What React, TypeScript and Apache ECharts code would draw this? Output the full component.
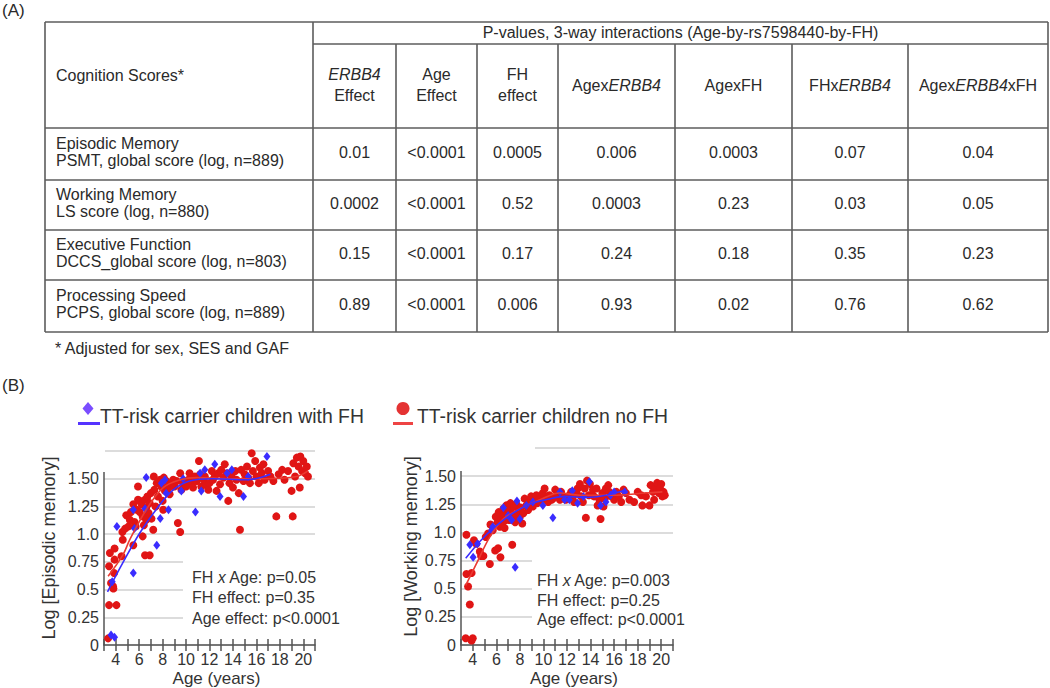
import React, { useEffect, useRef } from 'react';
import * as echarts from 'echarts';

const FONT = '"Liberation Sans", Arial, Helvetica, sans-serif';

// ---------- Table data (A) ----------
const tableTitle = 'P-values, 3-way interactions (Age-by-rs7598440-by-FH)';
const rowHeaderLabel = 'Cognition Scores*';
const columnHeaders = [
  '{i|ERBB4}\n{n|Effect}',
  '{n|Age}\n{n|Effect}',
  '{n|FH}\n{n|effect}',
  '{n|Agex}{i|ERBB4}',
  '{n|AgexFH}',
  '{n|FHx}{i|ERBB4}',
  '{n|Agex}{i|ERBB4}{n|xFH}',
];
const cognitionDomains = ['Episodic Memory', 'Working Memory', 'Executive Function', 'Processing Speed'];
const scoreDescriptions = [
  'PSMT, global score (log, n=889)',
  'LS score (log, n=880)',
  'DCCS_global score (log, n=803)',
  'PCPS, global score (log, n=889)',
];
const pValues = [
  ['0.01', '<0.0001', '0.0005', '0.006', '0.0003', '0.07', '0.04'],
  ['0.0002', '<0.0001', '0.52', '0.0003', '0.23', '0.03', '0.05'],
  ['0.15', '<0.0001', '0.17', '0.24', '0.18', '0.35', '0.23'],
  ['0.89', '<0.0001', '0.006', '0.93', '0.02', '0.76', '0.62'],
];
const footnote = '* Adjusted for sex, SES and GAF';

// ---------- Plot data (B) ----------
const legendNames = ['TT-risk carrier children with FH', 'TT-risk carrier children no FH'];
const yTickLabels = ['0', '0.25', '0.5', '0.75', '1.0', '1.25', '1.50', ''];
const xTickLabels = ['4', '6', '8', '10', '12', '14', '16', '18', '20'];

const episodicNoFH = [
  [3.35, 0.06], [3.43, 0.36], [3.43, 0.71], [3.5, 0.83], [3.6, 0.56], [3.77, 0.53], [3.8, 0.51], [3.86, 0.65],
  [3.9, 0.87], [3.9, 0.77], [4.06, 0.36], [4.5, 0.8], [4.6, 0.95], [4.57, 1.02], [4.8, 1.05], [4.9, 1.17],
  [5.1, 1.07], [5.2, 1.13], [5.3, 1.2], [5.5, 0.9], [5.5, 1.27], [5.6, 1.11], [5.7, 1.07], [5.8, 1.22],
  [5.9, 1.43], [5.9, 1.31], [6.05, 1.3], [6.05, 1.2], [6.2, 1.27], [6.3, 1.16], [6.3, 0.98], [6.4, 1.08],
  [6.5, 1.31], [6.5, 0.81], [6.6, 1.24], [6.6, 1.13], [6.7, 1.34], [6.8, 1.19], [6.9, 1.28], [6.9, 0.81],
  [7.0, 1.37], [7.05, 1.14], [7.2, 1.04], [7.25, 1.52], [7.3, 1.4], [7.4, 1.25], [7.5, 1.46], [7.6, 1.34],
  [7.8, 1.49], [7.9, 1.43], [8.0, 1.3], [8.05, 1.22], [8.1, 1.51], [8.2, 1.39], [8.3, 1.48], [8.5, 1.42],
  [8.6, 1.36], [8.8, 1.45], [8.9, 1.49], [9.0, 1.43], [9.2, 1.48], [9.3, 1.1], [9.5, 1.55], [9.5, 1.02],
  [9.6, 1.4], [9.75, 1.46], [10.0, 1.43], [10.2, 1.49], [10.3, 1.55], [10.5, 1.46], [10.6, 1.42], [10.75, 1.52],
  [10.9, 1.48], [11.1, 1.66], [11.2, 1.54], [11.3, 1.43], [11.5, 1.49], [11.6, 1.52], [11.75, 1.45], [11.9, 1.4],
  [12.0, 1.46], [12.2, 1.57], [12.3, 1.49], [12.45, 1.52], [12.6, 1.39], [12.75, 1.55], [12.9, 1.45], [13.0, 1.58],
  [13.2, 1.51], [13.3, 1.63], [13.5, 1.55], [13.6, 1.3], [13.7, 1.46], [13.9, 1.52], [14.0, 1.42], [14.2, 1.57],
  [14.3, 1.49], [14.5, 1.37], [14.6, 1.04], [14.7, 1.58], [14.9, 1.48], [15.0, 1.54], [15.2, 1.61], [15.3, 1.51],
  [15.45, 1.46], [15.6, 1.73], [15.7, 1.57], [15.9, 1.66], [16.0, 1.52], [16.2, 1.46], [16.3, 1.6], [16.45, 1.55],
  [16.6, 1.63], [16.7, 1.49], [17.0, 1.57], [17.2, 1.52], [17.45, 1.48], [17.7, 1.16], [17.9, 1.54], [18.2, 1.58],
  [18.4, 1.49], [18.7, 1.57], [19.0, 1.39], [19.1, 1.16], [19.15, 1.64], [19.3, 1.52], [19.45, 1.69], [19.6, 1.61],
  [19.7, 1.42], [19.75, 1.7], [19.9, 1.57], [20.0, 1.66], [20.15, 1.55], [20.3, 1.61], [20.4, 1.52],
];
const episodicFH = [
  [3.6, 0.09], [3.9, 0.07], [3.7, 0.57], [4.1, 1.07], [5.5, 0.65], [5.5, 1.22], [5.6, 1.05], [6.5, 1.23],
  [6.6, 1.51], [7.5, 0.9], [7.8, 1.14], [7.9, 1.46], [8.2, 1.49], [8.3, 1.37], [8.5, 1.22], [9.6, 1.39],
  [9.75, 1.5], [10.8, 1.2], [11.2, 1.55], [11.3, 1.39], [11.6, 1.58], [12.45, 1.63], [12.9, 1.34], [13.5, 1.55],
  [13.9, 1.58], [14.9, 1.34], [15.3, 1.52], [16.9, 1.7],
];
const episodicFitNoFH = [
  [3.35, 0.62], [4.6, 0.81], [5.2, 0.95], [6.6, 1.22], [8.05, 1.42], [9.5, 1.49], [10.9, 1.51], [13.7, 1.5],
  [16.6, 1.5], [19.45, 1.52], [20.4, 1.57],
];
const episodicFitFH = [
  [3.3, 0.48], [4.6, 0.74], [6.05, 1.01], [7.5, 1.23], [8.9, 1.4], [10.3, 1.48], [12.3, 1.5], [15.2, 1.49],
  [17.2, 1.54],
];

const workingNoFH = [
  [3.4, 0.06], [3.9, 0.04], [4.0, 0.06], [3.46, 0.98], [3.46, 0.63], [3.6, 0.52], [3.75, 0.36], [3.9, 0.64],
  [4.1, 0.93], [4.3, 0.9], [4.6, 0.83], [4.7, 0.79], [4.9, 0.79], [5.1, 0.96], [5.3, 0.99], [5.45, 0.72],
  [5.5, 1.07], [5.7, 1.02], [5.9, 0.84], [5.95, 1.14], [6.1, 1.09], [6.15, 0.86], [6.2, 1.18], [6.3, 1.05],
  [6.35, 0.78], [6.4, 1.12], [6.5, 1.08], [6.6, 1.21], [6.6, 1.15], [6.7, 1.04], [6.8, 1.11], [6.85, 1.24],
  [6.9, 1.17], [7.0, 1.14], [7.1, 1.2], [7.1, 1.11], [7.2, 1.26], [7.3, 1.17], [7.35, 0.89], [7.4, 1.13],
  [7.5, 1.23], [7.55, 1.15], [7.6, 1.09], [7.7, 1.25], [7.85, 1.18], [8.0, 1.14], [8.07, 1.22], [8.2, 1.08],
  [8.3, 1.17], [8.4, 1.3], [8.55, 1.24], [8.7, 1.2], [8.8, 1.27], [8.95, 1.32], [9.1, 1.23], [9.25, 1.29],
  [9.4, 1.33], [9.5, 1.26], [9.7, 1.3], [9.8, 1.27], [9.95, 1.35], [10.1, 1.39], [10.25, 1.3], [10.4, 1.27],
  [10.5, 1.33], [10.7, 1.29], [10.8, 1.3], [11.0, 1.38], [11.1, 1.32], [11.2, 1.35], [11.4, 1.29], [11.5, 1.36],
  [11.65, 1.32], [11.9, 1.29], [12.2, 1.33], [12.35, 1.36], [12.5, 1.32], [12.6, 1.27], [12.8, 1.35], [12.9, 1.39],
  [13.1, 1.43], [13.2, 1.32], [13.35, 1.27], [13.5, 1.39], [13.6, 1.13], [13.7, 1.46], [13.85, 1.33], [13.95, 1.43],
  [14.2, 1.38], [14.3, 1.32], [14.5, 1.39], [14.6, 1.24], [14.75, 1.29], [14.85, 1.12], [15.0, 1.35], [15.1, 1.23],
  [15.2, 1.3], [15.3, 1.39], [15.5, 1.42], [15.6, 1.36], [15.75, 1.32], [15.9, 1.33], [16.0, 1.29], [16.2, 1.36],
  [16.4, 1.32], [16.6, 1.27], [16.8, 1.38], [17.0, 1.35], [17.3, 1.29], [17.7, 1.27], [18.0, 1.36], [18.3, 1.33],
  [18.4, 1.24], [18.7, 1.32], [19.0, 1.24], [19.1, 1.42], [19.3, 1.36], [19.4, 1.29], [19.5, 1.4], [19.65, 1.44],
  [19.8, 1.35], [19.9, 1.39], [20.0, 1.43], [20.1, 1.32], [20.2, 1.36], [20.3, 1.33],
];
const workingFH = [
  [3.75, 0.89], [4.03, 0.78], [4.4, 0.9], [5.6, 1.02], [5.7, 1.05], [6.6, 1.22], [7.0, 1.15], [7.3, 1.11],
  [7.6, 0.69], [7.75, 1.28], [8.0, 1.12], [8.55, 1.24], [9.1, 1.27], [9.95, 1.24], [10.8, 1.13], [11.4, 1.36],
  [11.8, 1.29], [12.2, 1.29], [12.45, 1.37], [12.9, 1.26], [13.4, 1.32], [13.9, 1.45], [14.85, 1.24], [15.3, 1.27],
  [15.7, 1.33], [16.0, 1.36], [16.9, 1.36],
];
const workingFitNoFH = [
  [3.4, 0.53], [4.3, 0.72], [5.45, 0.96], [6.6, 1.12], [8.0, 1.21], [9.7, 1.29], [11.4, 1.35], [13.1, 1.33],
  [15.9, 1.33], [18.7, 1.35], [20.1, 1.36],
];
const workingFitFH = [
  [3.4, 0.77], [4.6, 0.92], [6.0, 1.06], [7.4, 1.17], [8.8, 1.25], [10.2, 1.29], [11.9, 1.32], [13.6, 1.31],
  [15.3, 1.33], [17.0, 1.38],
];

const annotEpisodic = ['{n|FH }{i|x}{n| Age: p=0.05}', '{n|FH effect: p=0.35}', '{n|Age effect: p<0.0001}'];
const annotWorking = ['{n|FH }{i|x}{n| Age: p=0.003}', '{n|FH effect: p=0.25}', '{n|Age effect: p<0.0001}'];

// ---------- Styles / layout ----------
const RED = '#e01515';
const RED_LINE = '#ea3a32';
const BLUE = '#3a2cff';
const BLUE_LINE = '#3b2dff';
const TEXT = '#2a2a2a';
const BORDER = '#5c5c5c';
const TABLE_FS = 16;

const colEdges = [45, 313, 396, 477, 558, 675, 792, 908, 1048];
const rowEdges = [128, 180, 230, 280, 332];
const TABLE_TOP = 22;
const TITLE_BOTTOM = 44;

function richFor(size: number, color: string, lh?: number) {
  return {
    n: { fontSize: size, fontFamily: FONT, fill: color, lineHeight: lh },
    i: { fontSize: size, fontFamily: FONT, fill: color, fontStyle: 'italic', lineHeight: lh },
  };
}

function txt(x: number, y: number, text: string, size: number, align = 'left', extra: any = {}) {
  return {
    type: 'text',
    x,
    y,
    z: 5,
    style: {
      text,
      fontSize: size,
      fontFamily: FONT,
      fill: TEXT,
      align,
      verticalAlign: 'middle',
      ...extra,
    },
  };
}

function hline(x1: number, x2: number, y: number) {
  return { type: 'line', z: 4, shape: { x1, y1: y, x2, y2: y }, style: { stroke: BORDER, lineWidth: 1.6 } };
}
function vline(x: number, y1: number, y2: number) {
  return { type: 'line', z: 4, shape: { x1: x, y1, x2: x, y2 }, style: { stroke: BORDER, lineWidth: 1.6 } };
}

function buildTable() {
  const els: any[] = [];
  const L = colEdges[0];
  const R = colEdges[colEdges.length - 1];
  const B = rowEdges[rowEdges.length - 1];
  els.push(hline(L, R, TABLE_TOP));
  els.push(hline(colEdges[1], R, TITLE_BOTTOM));
  rowEdges.forEach((y) => els.push(hline(L, R, y)));
  els.push(vline(L, TABLE_TOP, B));
  els.push(vline(colEdges[1], TABLE_TOP, B));
  els.push(vline(R, TABLE_TOP, B));
  for (let c = 2; c < colEdges.length - 1; c++) els.push(vline(colEdges[c], TITLE_BOTTOM, B));

  els.push(txt((colEdges[1] + R) / 2, 32, tableTitle, TABLE_FS, 'center'));
  els.push(txt(56, 75, rowHeaderLabel, TABLE_FS, 'left'));
  columnHeaders.forEach((h, i) => {
    const cx = (colEdges[i + 1] + colEdges[i + 2]) / 2;
    els.push(txt(cx, 85, h, TABLE_FS, 'center', { rich: richFor(TABLE_FS, TEXT, 21) }));
  });
  cognitionDomains.forEach((d, r) => {
    const cy = (rowEdges[r] + rowEdges[r + 1]) / 2;
    els.push(txt(56, cy - 11, d, TABLE_FS, 'left'));
    els.push(txt(56, cy + 6, scoreDescriptions[r], TABLE_FS, 'left'));
    pValues[r].forEach((v, c) => {
      const cx = (colEdges[c + 1] + colEdges[c + 2]) / 2;
      els.push(txt(cx, cy - 2, v, TABLE_FS, 'center'));
    });
  });
  els.push(txt(55, 348, footnote, TABLE_FS, 'left'));
  els.push(txt(2, 10, '(A)', 17, 'left'));
  els.push(txt(2, 385, '(B)', 17, 'left'));
  return els;
}

function buildLegend() {
  return [
    { type: 'polygon', z: 5, shape: { points: [[88, 402], [93.5, 408.5], [88, 415], [82.5, 408.5]] }, style: { fill: '#7a4dff' } },
    { type: 'line', z: 5, shape: { x1: 78, y1: 423.5, x2: 100, y2: 423.5 }, style: { stroke: '#5533ff', lineWidth: 3 } },
    txt(100, 416, legendNames[0], 19.4, 'left', { fill: '#333' }),
    { type: 'circle', z: 5, shape: { cx: 403, cy: 408.5, r: 6.5 }, style: { fill: '#e43333' } },
    { type: 'line', z: 5, shape: { x1: 393, y1: 423.5, x2: 413, y2: 423.5 }, style: { stroke: '#ee4444', lineWidth: 3 } },
    txt(417, 416, legendNames[1], 19.4, 'left', { fill: '#333' }),
  ];
}

function buildAnnotations() {
  const els: any[] = [];
  const white = (x: number, y: number, w: number, h: number) => ({
    type: 'rect', z: 1, shape: { x, y, width: w, height: h }, style: { fill: '#ffffff' },
  });
  els.push(white(183, 549, 132, 88));
  els.push(white(532, 548, 142, 89));
  els.push(white(96, 440, 9, 32));
  els.push(white(455, 440, 80, 31));
  els.push(white(610, 444, 66, 8));
  const ys1 = [577, 597, 618];
  annotEpisodic.forEach((t, i) => els.push(txt(192, ys1[i], t, 16, 'left', { rich: richFor(16, '#333') })));
  const ys2 = [580, 600, 619];
  annotWorking.forEach((t, i) => els.push(txt(537, ys2[i], t, 16, 'left', { rich: richFor(16, '#333') })));
  return els;
}

function mkX(gridIndex: number, inner: boolean) {
  return {
    type: 'value',
    gridIndex,
    min: 3,
    max: 21,
    interval: 1,
    position: 'bottom',
    axisLine: { show: !inner, onZero: false, lineStyle: { color: '#555', width: 1.5 } },
    axisTick: { show: true, inside: inner, length: 6, lineStyle: { color: '#555', width: 1.5 } },
    axisLabel: {
      show: !inner,
      margin: 6,
      fontSize: 16,
      fontFamily: FONT,
      color: '#333',
      formatter: (v: number) => {
        const idx = xTickLabels.indexOf(String(Math.round(v)));
        return idx >= 0 && Math.abs(v - Math.round(v)) < 1e-6 ? xTickLabels[idx] : '';
      },
    },
    splitLine: { show: false },
    name: inner ? '' : 'Age (years)',
    nameLocation: 'middle',
    nameGap: 25,
    nameTextStyle: { fontSize: 17, fontFamily: FONT, color: '#333', padding: [0, 0, 0, 14] },
  };
}

function mkY(gridIndex: number, name: string, gap: number) {
  return {
    type: 'value',
    gridIndex,
    min: 0,
    max: 1.75,
    interval: 0.25,
    axisLine: { show: true, onZero: false, lineStyle: { color: '#555', width: 1.5 } },
    axisTick: { show: false },
    axisLabel: {
      margin: 5,
      fontSize: 16,
      fontFamily: FONT,
      color: '#333',
      formatter: (v: number) => yTickLabels[Math.round(v / 0.25)] ?? '',
    },
    splitLine: { show: true, lineStyle: { color: '#dcdcdc', width: 2 } },
    name,
    nameLocation: 'middle',
    nameRotate: 90,
    nameGap: gap,
    nameTextStyle: { fontSize: 18, fontFamily: FONT, color: '#333' },
  };
}

function scatter(name: string, data: number[][], xi: number, yi: number, isFH: boolean) {
  return {
    name,
    type: 'scatter',
    xAxisIndex: xi,
    yAxisIndex: yi,
    data,
    symbol: isFH ? 'diamond' : 'circle',
    symbolSize: isFH ? [7, 9] : 8,
    itemStyle: { color: isFH ? BLUE : RED, opacity: 1 },
    z: 2,
    silent: true,
  };
}

function fit(name: string, data: number[][], xi: number, yi: number, isFH: boolean) {
  return {
    name,
    type: 'line',
    xAxisIndex: xi,
    yAxisIndex: yi,
    data,
    smooth: 0.35,
    showSymbol: false,
    symbol: 'none',
    lineStyle: { color: isFH ? BLUE_LINE : RED_LINE, width: 1.6 },
    z: 3,
    silent: true,
  };
}

export default function App() {
  const ref = useRef<HTMLDivElement>(null);
  useEffect(() => {
    document.body.style.margin = '0';
    if (!ref.current) return;
    const chart = echarts.init(ref.current, undefined, { renderer: 'svg' });
    const option: any = {
      animation: false,
      backgroundColor: '#ffffff',
      grid: [
        { left: 104, top: 451, width: 211, height: 194, containLabel: false, outerBoundsMode: 'none' },
        { left: 461, top: 448, width: 212, height: 197, containLabel: false, outerBoundsMode: 'none' },
      ],
      xAxis: [mkX(0, false), mkX(0, true), mkX(1, false), mkX(1, true)],
      yAxis: [mkY(0, 'Log [Episodic memory]', 46), mkY(1, 'Log [Working memory]', 41)],
      series: [
        scatter(legendNames[1], episodicNoFH, 0, 0, false),
        scatter(legendNames[0], episodicFH, 0, 0, true),
        fit(legendNames[1] + ' fit', episodicFitNoFH, 0, 0, false),
        fit(legendNames[0] + ' fit', episodicFitFH, 0, 0, true),
        scatter(legendNames[1], workingNoFH, 2, 1, false),
        scatter(legendNames[0], workingFH, 2, 1, true),
        fit(legendNames[1] + ' fit', workingFitNoFH, 2, 1, false),
        fit(legendNames[0] + ' fit', workingFitFH, 2, 1, true),
      ],
      graphic: { elements: [...buildTable(), ...buildLegend(), ...buildAnnotations()] },
    };
    chart.setOption(option);
    return () => chart.dispose();
  }, []);
  return <div ref={ref} style={{ width: 1050, height: 688 }} />;
}
